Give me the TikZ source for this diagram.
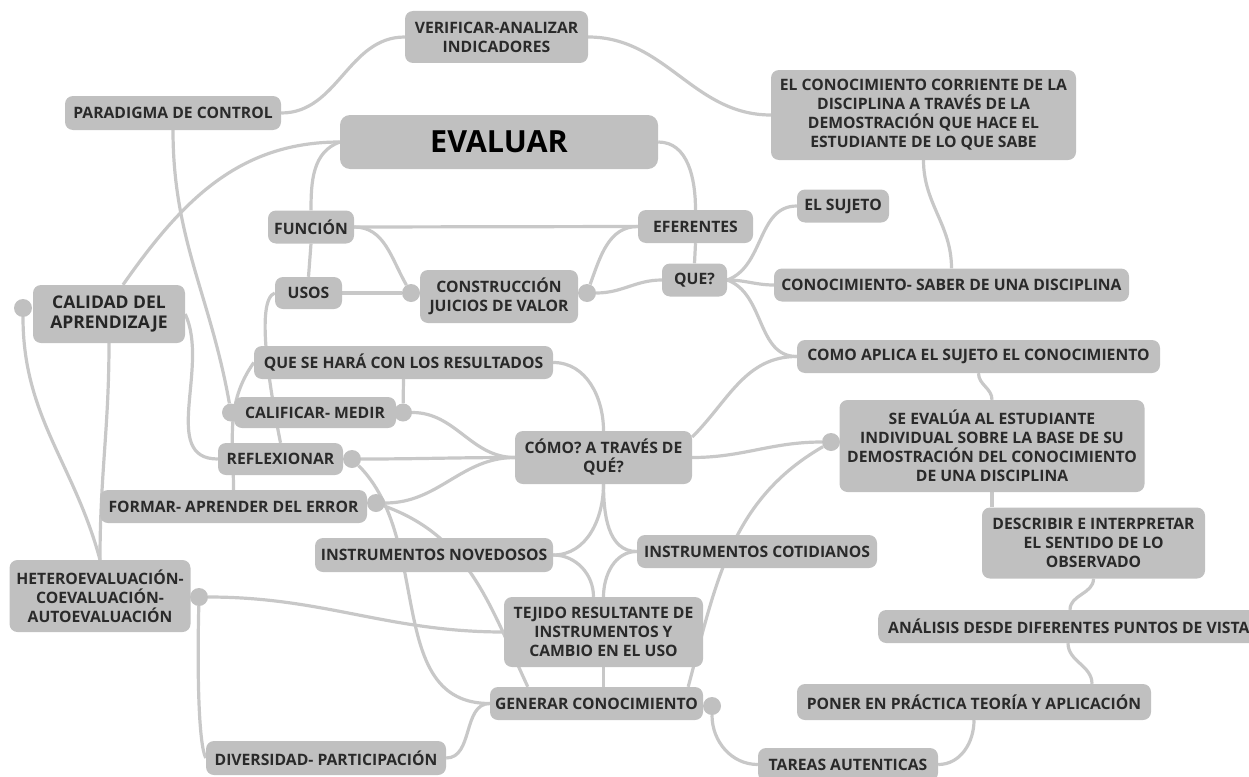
\documentclass[tikz,border=0pt]{standalone}
\usepackage{fontspec}
\setmainfont{Open Sans}
\usetikzlibrary{positioning,calc,backgrounds}

\definecolor{boxgray}{RGB}{192,192,192}
\definecolor{linkgray}{RGB}{200,200,200}
\definecolor{txtgray}{RGB}{42,42,42}

\begin{document}
\begin{tikzpicture}[
  x=1pt, y=-1pt,
  font={\fontsize{15.7}{19}\selectfont\bfseries},
  box/.style={fill=boxgray, rounded corners=8pt, align=center, inner sep=2pt,
              text=txtgray, minimum height=33pt},
  knob/.style={circle, fill=boxgray, inner sep=0pt, minimum size=18pt},
  link/.style={draw=linkgray, line width=3.2pt},
]
\useasboundingbox (0,0) rectangle (1249,776);

%% ---------- top row ----------
\node[box, minimum width=183pt, minimum height=52pt] (verif) at (496.5,37)
  {VERIFICAR-ANALIZAR\\INDICADORES};
\node[box, minimum width=216pt, minimum height=34pt] (paradigma) at (173,113)
  {PARADIGMA DE CONTROL};
\node[box, minimum width=318pt, minimum height=54pt, rounded corners=10pt, text=black,
      font={\fontsize{30.5}{34}\selectfont\bfseries}] (evaluar) at (499,142) {EVALUAR};
\node[box, minimum width=305pt, minimum height=90pt] (corriente) at (923.5,115)
  {EL CONOCIMIENTO CORRIENTE DE LA\\DISCIPLINA A TRAVÉS DE LA\\DEMOSTRACIÓN QUE HACE EL\\ESTUDIANTE DE LO QUE SABE};

%% ---------- second level ----------
\node[box, minimum width=86pt] (funcion) at (311,227) {FUNCIÓN};
\node[box, minimum width=115pt] (eferentes) at (695.5,226.5) {EFERENTES};
\node[box, minimum width=92pt] (sujeto) at (843,206) {EL SUJETO};
\node[box, minimum width=65pt] (que) at (694.5,280) {QUE?};
\node[box, minimum width=355pt] (saber) at (951.5,285) {CONOCIMIENTO- SABER DE UNA DISCIPLINA};

\node[box, minimum width=152pt, minimum height=58pt, text=black!85,
      font={\fontsize{17.5}{20}\selectfont\bfseries}] (calidad) at (109,314)
  {CALIDAD DEL\\APRENDIZAJE};
\node[knob] (kcal) at (23,308) {};

\node[box, minimum width=67pt, minimum height=32pt] (usos) at (308.5,293) {USOS};
\node[box, minimum width=158pt, minimum height=53pt] (juicios) at (499,296.5)
  {CONSTRUCCIÓN\\JUICIOS DE VALOR};
\node[knob] (kjl) at (411,293) {};
\node[knob] (kjr) at (587,293) {};

\node[box, minimum width=299pt] (hara) at (403.5,362.5) {QUE SE HARÁ CON LOS RESULTADOS};
\node[box, minimum width=363pt] (aplica) at (978.5,356.5) {COMO APLICA EL SUJETO EL CONOCIMIENTO};

%% ---------- left stack ----------
\node[box, minimum width=162pt, minimum height=31pt] (calificar) at (315,412.5) {CALIFICAR- MEDIR};
\node[knob] (kcl) at (231,412.5) {};
\node[knob] (kcr) at (403,412.5) {};
\node[box, minimum width=125pt, minimum height=32pt] (reflex) at (280.5,459) {REFLEXIONAR};
\node[knob] (kref) at (352,459) {};
\node[box, minimum width=267pt] (formar) at (233.5,506.5) {FORMAR- APRENDER DEL ERROR};
\node[knob] (kfor) at (376,503) {};

%% ---------- middle ----------
\node[box, minimum width=177pt, minimum height=53pt] (como) at (603.5,457.5)
  {CÓMO? A TRAVÉS DE\\QUÉ?};
\node[box, minimum width=305pt, minimum height=92pt] (evalua) at (992,446)
  {SE EVALÚA AL ESTUDIANTE\\INDIVIDUAL SOBRE LA BASE DE SU\\DEMOSTRACIÓN DEL CONOCIMIENTO\\DE UNA DISCIPLINA};
\node[knob] (keva) at (831,442) {};
\node[box, minimum width=238pt, minimum height=34pt] (noved) at (434,555) {INSTRUMENTOS NOVEDOSOS};
\node[box, minimum width=240pt] (cotid) at (757,551.5) {INSTRUMENTOS COTIDIANOS};
\node[box, minimum width=223pt, minimum height=71pt] (describ) at (1093.5,543)
  {DESCRIBIR E INTERPRETAR\\EL SENTIDO DE LO\\OBSERVADO};

%% ---------- bottom ----------
\node[box, minimum width=181pt, minimum height=72pt] (hetero) at (100,596)
  {HETEROEVALUACIÓN-\\COEVALUACIÓN-\\AUTOEVALUACIÓN};
\node[knob] (khet) at (199,597) {};
\node[box, minimum width=199pt, minimum height=70pt] (tejido) at (603.5,632)
  {TEJIDO RESULTANTE DE\\INSTRUMENTOS Y\\CAMBIO EN EL USO};
\node[box, anchor=west, align=left, inner xsep=10pt] (analisis) at (878,626.5)
  {ANÁLISIS DESDE DIFERENTES PUNTOS DE VISTA};
\node[box, minimum width=213pt] (generar) at (596.5,703.5) {GENERAR CONOCIMIENTO};
\node[knob] (kgen) at (712,706) {};
\node[box, minimum width=354pt, minimum height=36pt] (poner) at (974,702) {PONER EN PRÁCTICA TEORÍA Y APLICACIÓN};
\node[box, minimum width=240pt, minimum height=34pt] (divers) at (326,758) {DIVERSIDAD- PARTICIPACIÓN};
\node[box, minimum width=180pt] (tareas) at (848,764.5) {TAREAS AUTENTICAS};

%% ---------- connectors (behind the boxes) ----------
\begin{scope}[on background layer]
\draw[link] (paradigma.east) to[out=0,in=180] (verif.west);
\draw[link] (verif.east) to[out=0,in=180] (corriente.west);
\draw[link] (paradigma.south) to[out=-90,in=100] (kcl);
\draw[link] (evaluar.west) to[out=180,in=55] ($(calidad.north)+(14,0)$);
\draw[link] (evaluar.west) to[out=200,in=90] (funcion.north);
\draw[link] (evaluar.east) to[out=0,in=90] (eferentes.north);
\draw[link] (corriente.south) to[out=-90,in=90] (saber.north);

\draw[link] (funcion.east) -- (eferentes.west);
\draw[link] (funcion.east) to[out=0,in=120] (kjl);
\draw[link] (funcion.south) -- (usos.north);
\draw[link] (usos.east) -- (kjl);
\draw[link] (kjr) to[out=70,in=180] (eferentes.west);
\draw[link] (kjr) to[out=0,in=180] (que.west);
\draw[link] (eferentes.south) -- (que.north);
\draw[link] (que.east) to[out=20,in=180] (sujeto.west);
\draw[link] (que.east) to[out=0,in=180] (saber.west);
\draw[link] (que.east) to[out=-20,in=180] (aplica.west);

%% left stack
\draw[link] (usos.west) .. controls (255,300) and (270,390) .. (reflex.north);
\draw[link] (hara.west) to[out=235,in=90] (formar.north);
\draw[link] (hara.south) -- (kcr);
\draw[link] (hara.east) to[out=0,in=90] (como.north);
\draw[link] (kcr) to[out=0,in=180] (como.west);
\draw[link] (kref) to[out=0,in=180] (como.west);
\draw[link] (kfor) to[out=0,in=180] (como.west);
\draw[link] (calidad.east) to[out=-65,in=180] (reflex.west);
\draw[link] (calidad.south) to[out=-90,in=90] (hetero.north);
\draw[link] (kcal) to[out=-90,in=105] (hetero.north);
\draw[link] (khet) to[out=0,in=180] (tejido.west);
\draw[link] (khet) .. controls (197,680) and (199,745) .. (divers.west);
\draw[link] (divers.east) to[out=0,in=180] (generar.west);
\draw[link] (kref) to[out=-45,in=180] (generar.west);
\draw[link] (kfor) to[out=-20,in=115] ($(generar.north west)+(38,0)$);

%% middle and right
\draw[link] (como.south) to[out=-90,in=0] (noved.east);
\draw[link] (como.south) to[out=-90,in=180] (cotid.west);
\draw[link] (noved.east) to[out=0,in=90] ($(tejido.north)+(-10,0)$);
\draw[link] (cotid.west) to[out=180,in=90] (tejido.north);
\draw[link] (como.east) to[out=0,in=180] (keva);
\draw[link] (como.13) to[out=45,in=180] (aplica.west);
\draw[link] ($(generar.north east)+(-15,0)$) to[out=75,in=210] (keva);
\draw[link] (tejido.south) -- (tejido.south |- generar.north);
\draw[link] (kgen) to[out=-90,in=180] (tareas.west);
\draw[link] (tareas.east) to[out=0,in=-90] (poner.south);
\draw[link] ($(poner.north)+(118,0)$) to[out=90,in=-90] ($(analisis.south west)+(190,0)$);
\draw[link] ($(analisis.north west)+(192,0)$) to[out=90,in=-90] (describ.south);
\draw[link] (evalua.south) -- (evalua.south |- describ.north);
\draw[link] (aplica.south) to[out=-90,in=90] (evalua.north);
\end{scope}

\end{tikzpicture}
\end{document}
